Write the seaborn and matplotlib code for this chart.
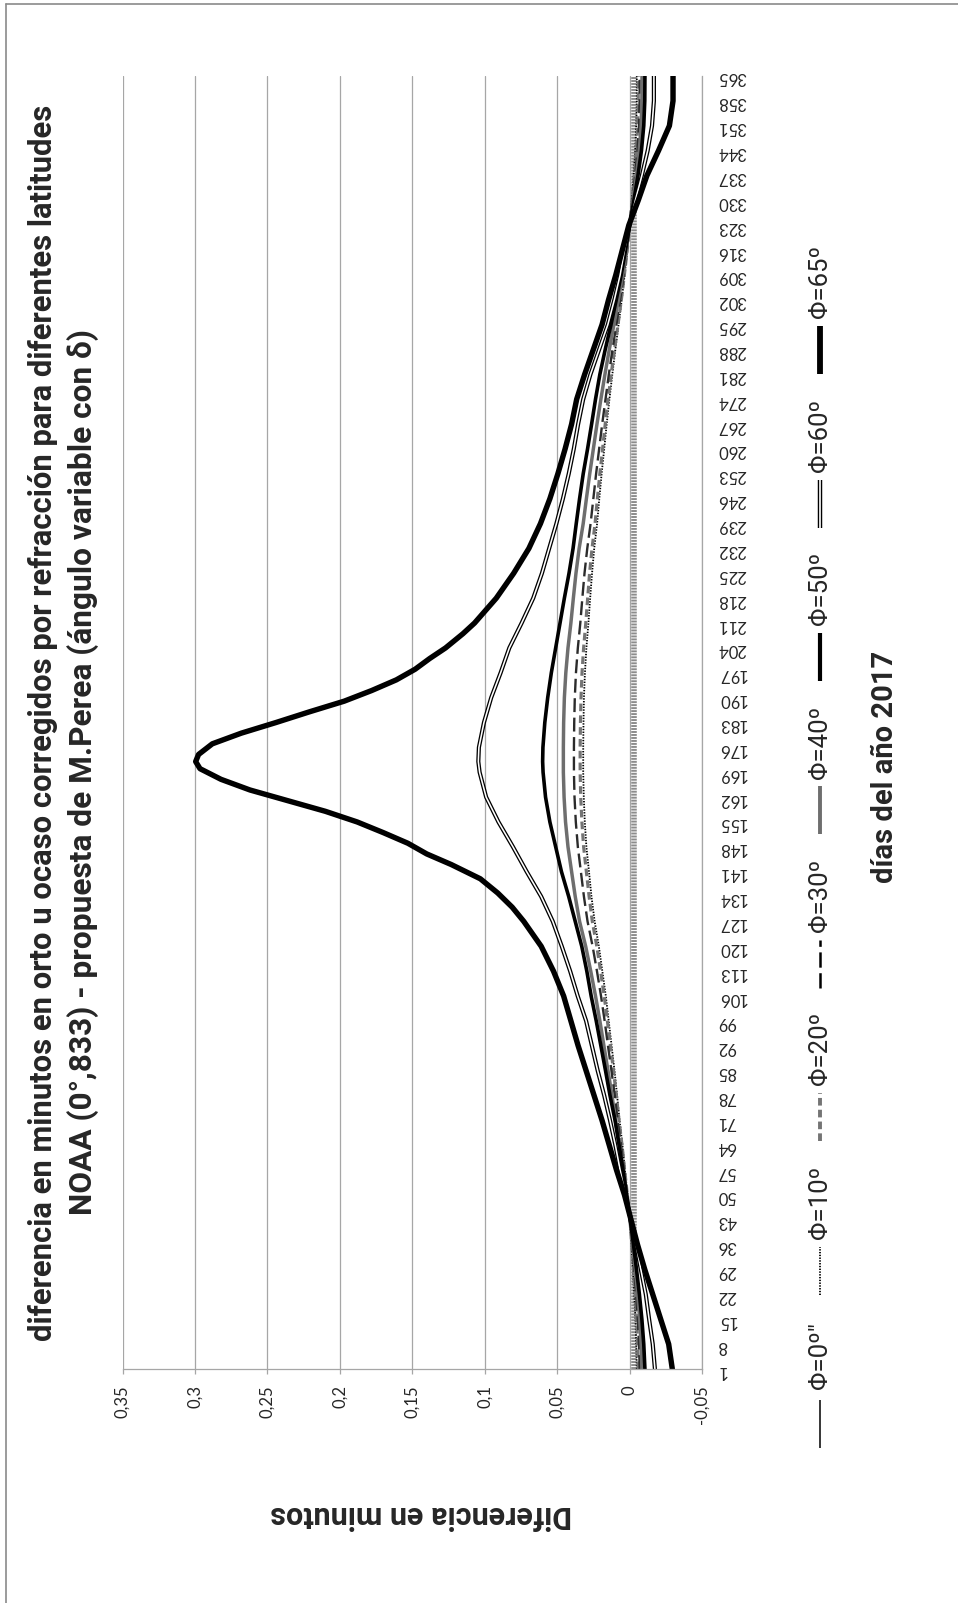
import matplotlib
matplotlib.use("Agg")
import matplotlib.pyplot as plt
from matplotlib.lines import Line2D
import seaborn as sns

# Days of the year 2017 at which the differences are sampled
days = [1, 8, 15, 22, 29, 36, 43, 50, 57, 64, 71, 78, 85, 92, 99, 106, 113, 120,
        127, 134, 141, 148, 155, 162, 169, 172, 176, 183, 190, 197, 204, 211, 218,
        225, 232, 239, 246, 253, 260, 267, 274, 281, 288, 295, 302, 309, 316, 323,
        330, 337, 344, 351, 358, 365]
# the 65 deg curve is sampled more densely around its sharp summer peak
days65 = [1, 8, 15, 22, 29, 36, 43, 50, 57, 64, 71, 78, 85, 92, 99, 106, 113, 120,
          127, 131, 135, 139, 143, 146, 149, 152, 155, 158, 161, 164, 167, 170, 172,
          174, 177, 180, 183, 186, 189, 192, 195, 198, 201, 204, 208, 211, 218, 225,
          232, 239, 246, 253, 260, 267, 274, 281, 288, 295, 302, 309, 316, 323, 330,
          337, 344, 351, 358, 365]

# Difference in minutes (NOAA 0.833 deg vs. declination-dependent angle) per latitude
phi0 = [-0.003, -0.003, -0.003, -0.003, -0.003, -0.003, -0.003, -0.003, -0.003,
        -0.003, -0.003, -0.003, -0.003, -0.003, -0.003, -0.003, -0.003, -0.003,
        -0.003, -0.003, -0.003, -0.003, -0.003, -0.003, -0.003, -0.003, -0.003,
        -0.003, -0.003, -0.003, -0.003, -0.003, -0.003, -0.003, -0.003, -0.003,
        -0.003, -0.003, -0.003, -0.003, -0.003, -0.003, -0.003, -0.003, -0.003,
        -0.003, -0.003, -0.003, -0.003, -0.003, -0.003, -0.003, -0.003, -0.003]
phi10 = [-0.0050, -0.0046, -0.0041, -0.0032, -0.0023, -0.0013, -0.0002, 0.0014,
         0.0032, 0.0049, 0.0069, 0.0086, 0.0104, 0.0124, 0.0144, 0.0164, 0.0188,
         0.0212, 0.0241, 0.0263, 0.0280, 0.0298, 0.0309, 0.0316, 0.0320, 0.0320,
         0.0320, 0.0318, 0.0315, 0.0308, 0.0298, 0.0284, 0.0272, 0.0259, 0.0244,
         0.0224, 0.0209, 0.0193, 0.0175, 0.0158, 0.0139, 0.0119, 0.0098, 0.0076,
         0.0054, 0.0034, 0.0015, 0.0000, -0.0015, -0.0028, -0.0039, -0.0046,
         -0.0050, -0.0050]
phi20 = [-0.0060, -0.0056, -0.0049, -0.0039, -0.0028, -0.0015, -0.0003, 0.0015,
         0.0034, 0.0052, 0.0073, 0.0091, 0.0111, 0.0132, 0.0153, 0.0175, 0.0200,
         0.0226, 0.0257, 0.0279, 0.0298, 0.0317, 0.0329, 0.0337, 0.0341, 0.0341,
         0.0341, 0.0339, 0.0335, 0.0328, 0.0317, 0.0302, 0.0289, 0.0276, 0.0259,
         0.0238, 0.0222, 0.0205, 0.0186, 0.0168, 0.0148, 0.0127, 0.0104, 0.0080,
         0.0057, 0.0036, 0.0016, 0.0000, -0.0018, -0.0034, -0.0047, -0.0056,
         -0.0060, -0.0060]
phi30 = [-0.0070, -0.0065, -0.0057, -0.0045, -0.0032, -0.0018, -0.0003, 0.0017,
         0.0038, 0.0059, 0.0082, 0.0102, 0.0125, 0.0149, 0.0172, 0.0197, 0.0225,
         0.0255, 0.0290, 0.0315, 0.0336, 0.0357, 0.0371, 0.0380, 0.0384, 0.0384,
         0.0384, 0.0382, 0.0378, 0.0370, 0.0357, 0.0340, 0.0326, 0.0311, 0.0292,
         0.0269, 0.0250, 0.0231, 0.0210, 0.0189, 0.0166, 0.0143, 0.0118, 0.0091,
         0.0065, 0.0040, 0.0018, 0.0000, -0.0020, -0.0039, -0.0054, -0.0065,
         -0.0069, -0.0070]
phi40 = [-0.0086, -0.0080, -0.0070, -0.0056, -0.0040, -0.0022, -0.0004, 0.0020,
         0.0045, 0.0070, 0.0098, 0.0121, 0.0149, 0.0177, 0.0205, 0.0235, 0.0268,
         0.0303, 0.0345, 0.0375, 0.0400, 0.0425, 0.0442, 0.0452, 0.0457, 0.0457,
         0.0457, 0.0455, 0.0450, 0.0440, 0.0425, 0.0405, 0.0388, 0.0370, 0.0348,
         0.0320, 0.0298, 0.0275, 0.0250, 0.0225, 0.0198, 0.0170, 0.0140, 0.0108,
         0.0077, 0.0048, 0.0022, 0.0000, -0.0025, -0.0048, -0.0067, -0.0080,
         -0.0085, -0.0086]
phi50 = [-0.0106, -0.0098, -0.0085, -0.0068, -0.0048, -0.0027, -0.0005, 0.0020,
         0.0045, 0.0072, 0.0100, 0.0135, 0.0166, 0.0198, 0.0230, 0.0265, 0.0295,
         0.0330, 0.0375, 0.0420, 0.0470, 0.0510, 0.0550, 0.0580, 0.0597, 0.0600,
         0.0598, 0.0585, 0.0565, 0.0540, 0.0510, 0.0480, 0.0450, 0.0418, 0.0390,
         0.0368, 0.0345, 0.0320, 0.0290, 0.0262, 0.0235, 0.0205, 0.0168, 0.0128,
         0.0092, 0.0058, 0.0028, 0.0000, -0.0030, -0.0058, -0.0082, -0.0098,
         -0.0105, -0.0106]
phi60 = [-0.0175, -0.0160, -0.0135, -0.0112, -0.0078, -0.0045, -0.0010, 0.0030,
         0.0065, 0.0098, 0.0135, 0.0175, 0.0220, 0.0260, 0.0300, 0.0358, 0.0410,
         0.0468, 0.0530, 0.0610, 0.0710, 0.0805, 0.0905, 0.0990, 0.1035, 0.1044,
         0.1040, 0.1005, 0.0955, 0.0890, 0.0830, 0.0745, 0.0665, 0.0605, 0.0555,
         0.0505, 0.0460, 0.0420, 0.0385, 0.0355, 0.0320, 0.0270, 0.0210, 0.0150,
         0.0105, 0.0065, 0.0035, 0.0000, -0.0040, -0.0085, -0.0125, -0.0155,
         -0.0168, -0.0168]
phi65 = [-0.0295, -0.0270, -0.0215, -0.0160, -0.0105, -0.0055, -0.0010, 0.0035,
         0.0090, 0.0140, 0.0190, 0.0245, 0.0300, 0.0355, 0.0405, 0.0455, 0.0525,
         0.0610, 0.0730, 0.0810, 0.0910, 0.1030, 0.1230, 0.1400, 0.1530, 0.1700,
         0.1880, 0.2100, 0.2360, 0.2620, 0.2820, 0.2965, 0.2995, 0.2975, 0.2880,
         0.2680, 0.2440, 0.2210, 0.1970, 0.1780, 0.1610, 0.1480, 0.1380, 0.1270,
         0.1150, 0.1070, 0.0920, 0.0800, 0.0695, 0.0615, 0.0550, 0.0495, 0.0445,
         0.0400, 0.0365, 0.0310, 0.0250, 0.0190, 0.0145, 0.0095, 0.0050, 0.0005,
         -0.0060, -0.0120, -0.0200, -0.0275, -0.0300, -0.0300]

series_labels = ['Φ=0º"', 'Φ=10º', 'Φ=20º', 'Φ=30º', 'Φ=40º', 'Φ=50º', 'Φ=60º', 'Φ=65º']
value_ticks = [-0.05, 0.0, 0.05, 0.10, 0.15, 0.20, 0.25, 0.30, 0.35]
value_tick_labels = ["-0,05", "0", "0,05", "0,1", "0,15", "0,2", "0,25", "0,3", "0,35"]
day_ticks = list(range(1, 366, 7))
day_tick_labels = [str(d) for d in day_ticks]

title_line1 = "diferencia en minutos en orto u ocaso corregidos por refracción para diferentes latitudes"
title_line2 = "NOAA (0°,833) - propuesta de M.Perea (ángulo variable con δ)"
value_axis_title = "Diferencia en minutos"
day_axis_title = "días del año 2017"

sns.set_style("white")
plt.rcParams["font.family"] = ["Lato", "DejaVu Sans"]
plt.rcParams["lines.scale_dashes"] = False
BOLD = ["Roboto", "DejaVu Sans"]
LEGEND_FONT = ["Roboto", "DejaVu Sans"]

GRID = "#a6a6a6"
W, H = 958, 1603

# line styles: (colour, width pt, linestyle, double-line?)
styles = [
    ("#8c8c8c", 4.0, (0, (1.4, 0.75)), False),
    ("#000000", 1.3, (0, (1.0, 1.0)), False),
    ("#747474", 2.3, (0, (5.5, 3.0)), False),
    ("#2b2b2b", 1.7, (0, (10.0, 4.0)), False),
    ("#6e6e6e", 2.5, "-", False),
    ("#000000", 2.6, "-", False),
    ("#000000", 3.0, "-", True),
    ("#000000", 3.9, "-", False),
]
legend_styles = [
    ("#000000", 1.1, "-", False),
    ("#000000", 1.3, (0, (1.0, 1.0)), False),
    ("#747474", 2.8, (0, (5.5, 3.0)), False),
    ("#000000", 1.8, (0, (11.0, 4.0)), False),
    ("#6e6e6e", 2.8, "-", False),
    ("#000000", 3.0, "-", False),
    ("#000000", 3.2, "-", True),
    ("#000000", 4.2, "-", False),
]
all_series = [(days, phi0), (days, phi10), (days, phi20), (days, phi30),
              (days, phi40), (days, phi50), (days, phi60), (days65, phi65)]

fig = plt.figure(figsize=(W / 100, H / 100), dpi=100)
ax = fig.add_axes([122.5 / W, 1 - 1369 / H, (702 - 122.5) / W, (1369 - 76) / H])

for (dd, vals), (col, lw, ls, double) in zip(all_series, styles):
    sns.lineplot(x=vals, y=dd, ax=ax, sort=False, estimator=None, orient="y",
                 color=col, linewidth=lw, linestyle=ls, legend=False,
                 solid_joinstyle="round")
    if double:
        sns.lineplot(x=vals, y=dd, ax=ax, sort=False, estimator=None, orient="y",
                     color="white", linewidth=lw * 0.38, legend=False,
                     solid_joinstyle="round")

ax.set_xlim(0.35, -0.05)
ax.set_ylim(1, 365)
ax.set_axisbelow(True)
ax.xaxis.grid(True, color=GRID, linewidth=0.9)
ax.yaxis.grid(False)
for side in ("left", "top"):
    ax.spines[side].set_visible(False)
for side in ("bottom", "right"):
    ax.spines[side].set_visible(True)
    ax.spines[side].set_color(GRID)
    ax.spines[side].set_linewidth(0.9)

ax.set_xticks(value_ticks)
ax.set_xticklabels(value_tick_labels, rotation=90)
ax.tick_params(axis="x", direction="out", length=3.6, width=0.9, color=GRID,
               pad=8, labelsize=12, bottom=True)
ax.yaxis.tick_right()
ax.set_yticks(day_ticks)
ax.set_yticklabels(day_tick_labels, rotation=180)
ax.tick_params(axis="y", length=0, pad=11, labelsize=12)
ax.set_xlabel("")
ax.set_ylabel("")

# legend laid out as a vertical column, entries reading bottom-to-top
lx = 820 / W
for i, (lab, (col, lw, ls, double)) in enumerate(zip(series_labels, legend_styles)):
    y0 = 1 - (1448 - 153.4 * i) / H
    y1 = 1 - (1400 - 153.4 * i) / H
    fig.add_artist(Line2D([lx, lx], [y0, y1], color=col, linewidth=lw, linestyle=ls,
                          solid_capstyle="butt"))
    if double:
        fig.add_artist(Line2D([lx, lx], [y0, y1], color="white", linewidth=lw * 0.38,
                              solid_capstyle="butt"))
    fig.text(lx, 1 - (1355.5 - 153.4 * i) / H, lab, rotation=90, ha="center",
             va="center", fontsize=18.5, family=LEGEND_FONT)

fig.text(43 / W, 1 - 723 / H, title_line1, rotation=90, ha="center", va="center",
         fontsize=22.3, fontweight="bold", family=BOLD)
fig.text(83 / W, 1 - 772 / H, title_line2, rotation=90, ha="center", va="center",
         fontsize=22.8, fontweight="bold", family=BOLD)
fig.text(421 / W, 1 - 1515 / H, value_axis_title, rotation=180, ha="center",
         va="center", fontsize=22, fontweight="bold", family=BOLD)
fig.text(885 / W, 1 - 767 / H, day_axis_title, rotation=90, ha="center",
         va="center", fontsize=21, fontweight="bold", family=BOLD)

# outer chart frame
fig.add_artist(Line2D([6 / W, 1.0], [1 - 4 / H, 1 - 4 / H], color="#8a8a8a", linewidth=1.2))
fig.add_artist(Line2D([6 / W, 6 / W], [0.0, 1 - 4 / H], color="#8a8a8a", linewidth=1.2))

fig.savefig("out.png", dpi=100, facecolor="white")
